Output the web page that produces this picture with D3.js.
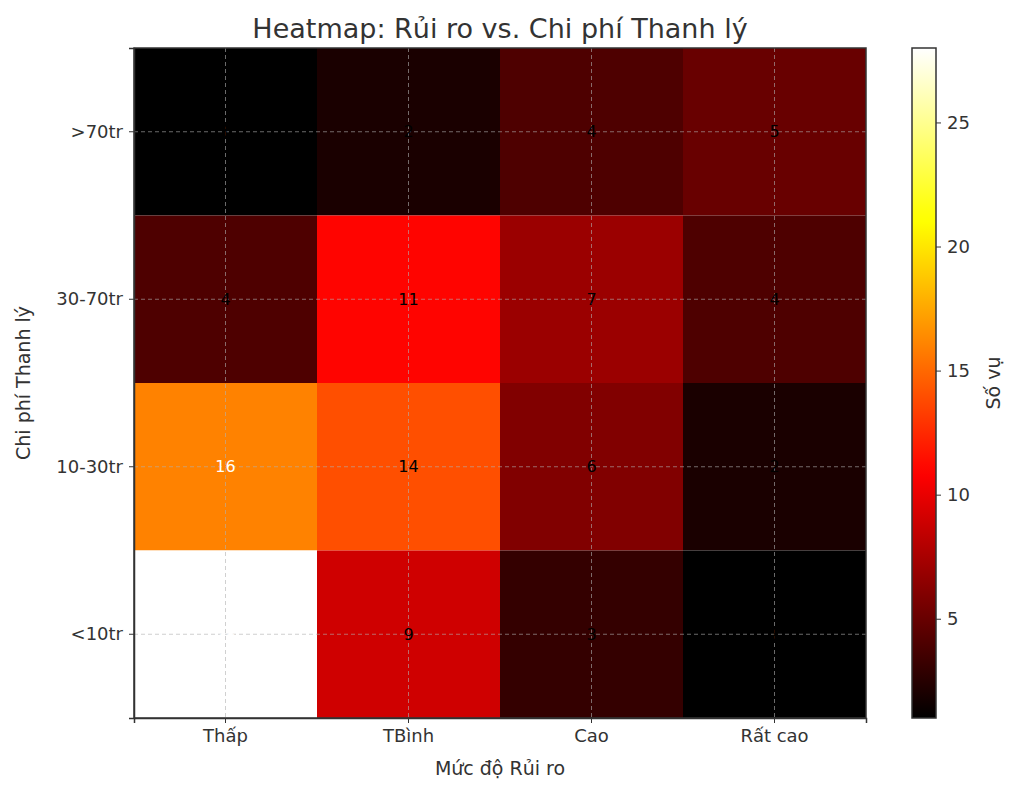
<!DOCTYPE html>
<html><head><meta charset="utf-8">
<script src="https://cdn.jsdelivr.net/npm/d3@7"></script>
<style>body{margin:0;background:#fff;font-family:"DejaVu Sans",sans-serif}</style>
</head><body><div id="chart"></div>
<script>
const riskLevels = ['Thấp', 'TBình', 'Cao', 'Rất cao']
const costLevels = ['>70tr', '30-70tr', '10-30tr', '<10tr']
// rows follow costLevels, columns follow riskLevels
const counts = [
  [1, 2, 4, 5],
  [4, 11, 7, 4],
  [16, 14, 6, 2],
  [28, 9, 3, 1]
]
const colorTicks = [5, 10, 15, 20, 25]

const W = 1024, H = 793
const m = { left: 134, top: 48, right: 866, bottom: 718 }
const svg = d3.select('#chart').append('svg').attr('width', W).attr('height', H)

const hot = t => {
  const c = v => Math.round(255 * Math.max(0, Math.min(1, v)))
  return `rgb(${c(t / 0.365)},${c((t - 0.365) / 0.375)},${c((t - 0.746) / 0.254)})`
}
const vmin = 1, vmax = 28
const color = v => hot((v - vmin) / (vmax - vmin))

const x = d3.scaleBand().domain(riskLevels).range([m.left, m.right])
const y = d3.scaleBand().domain(costLevels).range([m.top, m.bottom])

const cells = []
costLevels.forEach((c, i) => riskLevels.forEach((r, j) => cells.push({ c, r, v: counts[i][j] })))

svg.append('g').selectAll('rect').data(cells).join('rect')
  .attr('x', d => x(d.r)).attr('y', d => y(d.c))
  .attr('width', x.bandwidth()).attr('height', y.bandwidth())
  .attr('fill', d => color(d.v))

// grid
const grid = svg.append('g').attr('stroke', '#b0b0b0').attr('stroke-opacity', 0.6).attr('stroke-dasharray', '4,3')
riskLevels.forEach(r => grid.append('line').attr('x1', x(r) + x.bandwidth() / 2).attr('x2', x(r) + x.bandwidth() / 2).attr('y1', m.top).attr('y2', m.bottom))
costLevels.forEach(c => grid.append('line').attr('y1', y(c) + y.bandwidth() / 2).attr('y2', y(c) + y.bandwidth() / 2).attr('x1', m.left).attr('x2', m.right))

svg.append('g').selectAll('text').data(cells).join('text')
  .attr('x', d => x(d.r) + x.bandwidth() / 2).attr('y', d => y(d.c) + y.bandwidth() / 2)
  .attr('text-anchor', 'middle').attr('dominant-baseline', 'central')
  .attr('font-size', 16).attr('fill', d => d.v >= 16 ? '#fff' : '#000')
  .text(d => d.v)

const styleAxis = g => {
  g.selectAll('.domain').attr('stroke', '#333').attr('stroke-width', 1.5)
  g.selectAll('.tick line').attr('stroke', '#333')
  g.selectAll('.tick text').attr('font-size', 18).attr('fill', '#333').attr('font-family', 'DejaVu Sans')
}
svg.append('g').attr('transform', `translate(0,${m.bottom})`).call(d3.axisBottom(x).tickSizeOuter(0).tickSize(5).tickPadding(6)).call(styleAxis)
svg.append('g').attr('transform', `translate(${m.left},0)`).call(d3.axisLeft(y).tickSizeOuter(0).tickSize(5).tickPadding(6)).call(styleAxis)
svg.append('rect').attr('x', m.left).attr('y', m.top).attr('width', m.right - m.left).attr('height', m.bottom - m.top)
  .attr('fill', 'none').attr('stroke', '#333').attr('stroke-width', 1.5)

svg.append('text').attr('x', (m.left + m.right) / 2).attr('y', 38).attr('text-anchor', 'middle')
  .attr('font-size', 27).attr('fill', '#333').text('Heatmap: Rủi ro vs. Chi phí Thanh lý')
svg.append('text').attr('x', (m.left + m.right) / 2).attr('y', 775).attr('text-anchor', 'middle')
  .attr('font-size', 19).attr('fill', '#333').text('Mức độ Rủi ro')
svg.append('text').attr('transform', `translate(30,${(m.top + m.bottom) / 2}) rotate(-90)`).attr('text-anchor', 'middle')
  .attr('font-size', 19).attr('fill', '#333').text('Chi phí Thanh lý')

// colorbar
const cb = { x: 912, w: 24 }
const cy = d3.scaleLinear().domain([vmin, vmax]).range([m.bottom, m.top])
const defs = svg.append('defs')
const grad = defs.append('linearGradient').attr('id', 'hotgrad').attr('x1', 0).attr('x2', 0).attr('y1', 1).attr('y2', 0)
d3.range(0, 1.001, 0.02).forEach(t => grad.append('stop').attr('offset', t).attr('stop-color', hot(t)))
svg.append('rect').attr('x', cb.x).attr('y', m.top).attr('width', cb.w).attr('height', m.bottom - m.top)
  .attr('fill', 'url(#hotgrad)').attr('stroke', '#333').attr('stroke-width', 1.5)
svg.append('g').attr('transform', `translate(${cb.x + cb.w},0)`)
  .call(d3.axisRight(cy).tickValues(colorTicks).tickSize(5).tickPadding(6)).call(styleAxis)
  .call(g => g.select('.domain').remove())
svg.append('text').attr('transform', `translate(1000,${(m.top + m.bottom) / 2}) rotate(-90)`).attr('text-anchor', 'middle')
  .attr('font-size', 19).attr('fill', '#333').text('Số vụ')
</script></body></html>
